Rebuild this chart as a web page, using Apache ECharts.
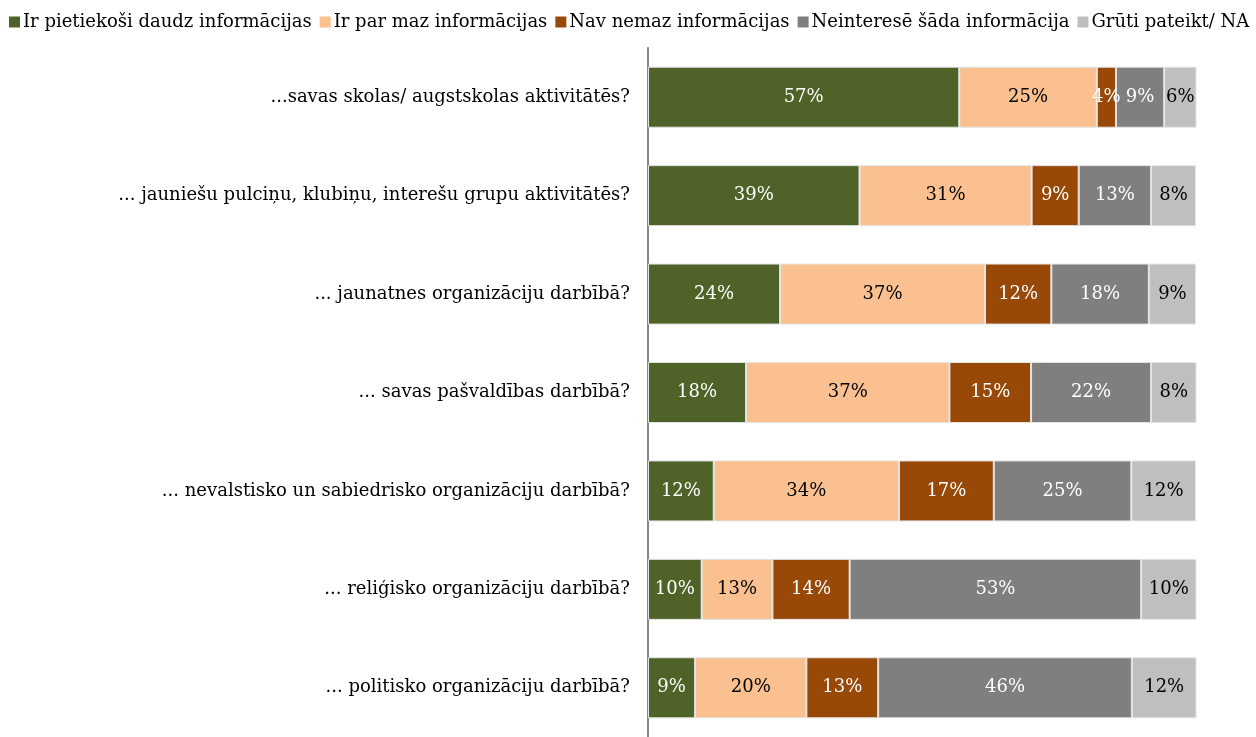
<!DOCTYPE html>
<html>
<head>
<meta charset="utf-8">
<script src="https://cdn.jsdelivr.net/npm/echarts@6/dist/echarts.min.js"></script>
<style>
    html, body { margin: 0; padding: 0; background: #fff; }
    #echart_main { width: 1256px; height: 737px; }
</style>
</head>
<body>
<div id="echart_main"></div>
<script>
// jautājumi (kategorijas), no augšas uz leju
var categories = [
    '...savas skolas/ augstskolas aktivitātēs?',
    '... jauniešu pulciņu, klubiņu, interešu grupu aktivitātēs?',
    '... jaunatnes organizāciju darbībā?',
    '... savas pašvaldības darbībā?',
    '... nevalstisko un sabiedrisko organizāciju darbībā?',
    '... reliģisko organizāciju darbībā?',
    '... politisko organizāciju darbībā?'
];
var seriesNames = [
    'Ir pietiekoši daudz informācijas',
    'Ir par maz informācijas',
    'Nav nemaz informācijas',
    'Neinteresē šāda informācija',
    'Grūti pateikt/ NA'
];
// procenti (nolasīti no attēla)
var daudz = [56.8, 38.6, 24.1, 17.9, 12.0, 9.8, 8.6];
var parMaz = [25.1, 31.4, 37.4, 37.1, 33.8, 12.9, 20.3];
var nemaz = [3.5, 8.6, 12.1, 14.9, 17.3, 14.1, 13.1];
var neinterese = [8.8, 13.2, 17.8, 21.9, 25.1, 53.2, 46.3];
var gruti = [5.9, 8.2, 8.6, 8.3, 11.8, 10.1, 11.8];

var colors = ['#4F6228', '#FAC090', '#984807', '#7F7F7F', '#BFBFBF'];
var labelColors = ['#ffffff', '#000000', '#ffffff', '#ffffff', '#000000'];
var fontFam = '"DejaVu Serif", serif';

function makeSeries(i, data) {
    return {
        name: seriesNames[i],
        type: 'bar',
        stack: 'total',
        barWidth: '62%',
        data: data,
        itemStyle: { color: colors[i], borderColor: '#e4e4e4', borderWidth: 1 },
        label: {
            show: true,
            position: 'inside',
            color: labelColors[i],
            fontFamily: fontFam,
            fontSize: 18,
            formatter: function (p) { return Math.round(p.value) + '%'; }
        }
    };
}

var myChart = echarts.init(document.getElementById('echart_main'));
var option = {
    animation: false,
    color: colors,
    legend: {
        left: 4,
        top: 8,
        itemWidth: 11,
        itemHeight: 11,
        itemGap: 8,
        icon: 'rect',
        itemStyle: { borderWidth: 0 },
        data: seriesNames,
        textStyle: { color: '#000', fontFamily: fontFam, fontSize: 18, padding: [0, 0, 0, -2] }
    },
    grid: {
        left: 648,
        right: 60,
        top: 48,
        height: 697
    },
    xAxis: {
        type: 'value',
        min: 0,
        max: 100,
        show: false
    },
    yAxis: {
        type: 'category',
        inverse: true,
        data: categories,
        axisLine: { lineStyle: { color: '#868686', width: 2 } },
        axisTick: { length: 5, lineStyle: { color: '#868686', width: 2 } },
        axisLabel: { color: '#000', fontFamily: fontFam, fontSize: 18, margin: 18 }
    },
    series: [
        makeSeries(0, daudz),
        makeSeries(1, parMaz),
        makeSeries(2, nemaz),
        makeSeries(3, neinterese),
        makeSeries(4, gruti)
    ]
};
myChart.setOption(option);
window.onresize = function () {
    myChart.resize();
};
</script>
</body>
</html>
